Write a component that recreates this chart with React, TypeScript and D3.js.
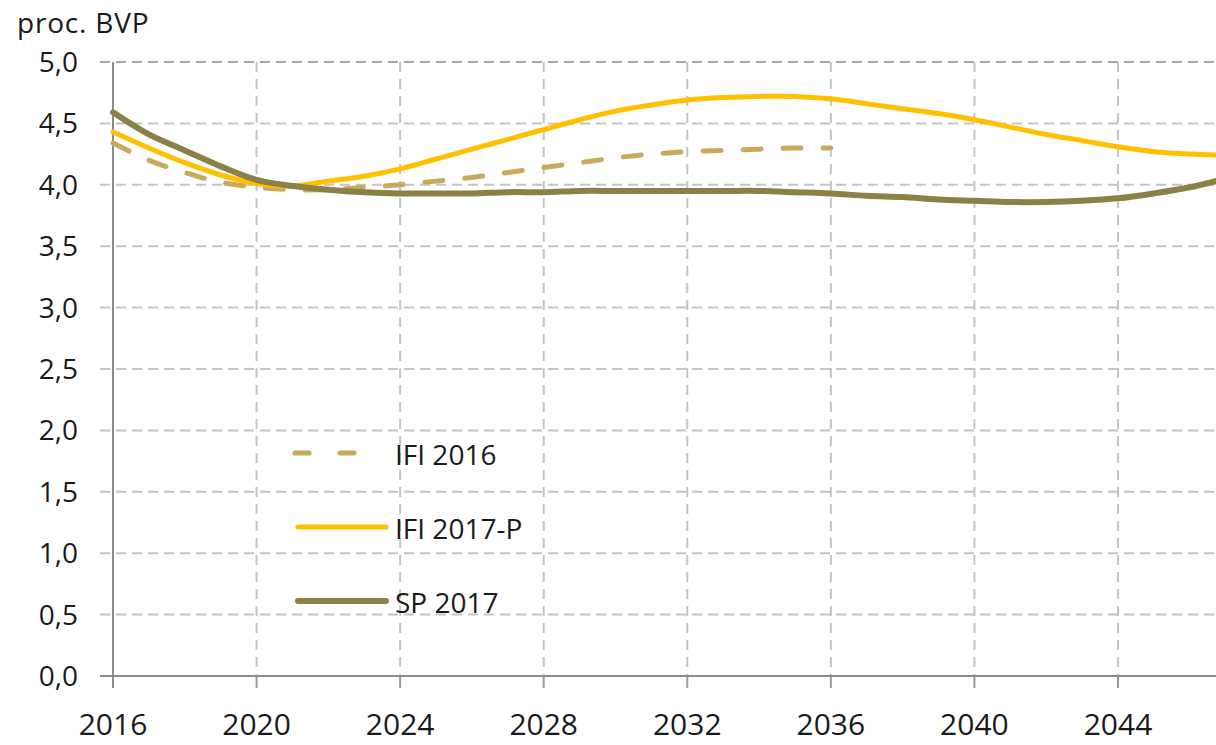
import React from 'react';
import * as d3 from 'd3';

const width = 1216;
const height = 745;
const margin = {top: 62, left: 113, bottom: 69};
const font = '"Open Sans", "DejaVu Sans", sans-serif';

const years = d3.range(2016, 2048);
const ifi2016 = [4.34, 4.2, 4.1, 4.02, 3.98, 3.96, 3.96, 3.98, 4.0, 4.03, 4.06, 4.1, 4.14, 4.18, 4.22, 4.25, 4.27, 4.28, 4.29, 4.3, 4.3];
const ifi2017p = [4.43, 4.3, 4.18, 4.08, 4.01, 3.99, 4.03, 4.07, 4.13, 4.21, 4.29, 4.37, 4.45, 4.53, 4.6, 4.65, 4.69, 4.71, 4.72, 4.72, 4.7, 4.66, 4.62, 4.58, 4.53, 4.47, 4.41, 4.36, 4.31, 4.27, 4.25, 4.24];
const sp2017 = [4.59, 4.41, 4.28, 4.15, 4.04, 3.99, 3.96, 3.94, 3.93, 3.93, 3.93, 3.94, 3.94, 3.95, 3.95, 3.95, 3.95, 3.95, 3.95, 3.94, 3.93, 3.91, 3.9, 3.88, 3.87, 3.86, 3.86, 3.87, 3.89, 3.93, 3.98, 4.05];
const yTicks = [0, 0.5, 1, 1.5, 2, 2.5, 3, 3.5, 4, 4.5, 5];
const xTicks = [2016, 2020, 2024, 2028, 2032, 2036, 2040, 2044];

const series = [
  {name: 'IFI 2016', values: ifi2016, color: '#c9a95c', width: 5, dash: '18,22'},
  {name: 'IFI 2017-P', values: ifi2017p, color: '#ffc000', width: 5, dash: null},
  {name: 'SP 2017', values: sp2017, color: '#8c8046', width: 6, dash: null},
];
const legendY = [453, 527, 601];

const xScale = d3.scaleLinear().domain([2016, 2044]).range([margin.left, 1118]);
const yScale = d3.scaleLinear().domain([0, 5]).range([height - margin.bottom, margin.top]);
const fmt = (v: number) => v.toFixed(1).replace('.', ',');

export default function App() {
  const line = d3.line<number>()
    .x((d, i) => xScale(years[i]))
    .y(d => yScale(d))
    .curve(d3.curveCatmullRom.alpha(0.5));
  const y0 = yScale(0);

  return (
    <svg width={width} height={height} style={{position: 'absolute', left: 0, top: 0, background: '#fff'}}>
      {/* horizontal grid */}
      {yTicks.map(t => (
        <g key={t}>
          {t > 0 && <line x1={100} x2={width} y1={yScale(t)} y2={yScale(t)}
            stroke={t === 5 ? '#a6a6a6' : '#c4c4c4'} strokeWidth={2} strokeDasharray='10,6' />}
          <text x={78} y={yScale(t) + 10} textAnchor='end' fontFamily={font} fontSize={28} fill='#1a1a1a'>{fmt(t)}</text>
        </g>
      ))}
      {/* vertical grid */}
      {xTicks.map(t => (
        <g key={t}>
          {t > 2016 && <line x1={xScale(t)} x2={xScale(t)} y1={margin.top} y2={y0}
            stroke='#c4c4c4' strokeWidth={2} strokeDasharray='10,7' />}
          <line x1={xScale(t)} x2={xScale(t)} y1={y0} y2={y0 + 12} stroke='#9a9a9a' strokeWidth={2} />
          <text x={xScale(t)} y={735} textAnchor='middle' fontFamily={font} fontSize={30} fill='#1a1a1a'>{t}</text>
        </g>
      ))}
      {/* axes */}
      <line x1={margin.left} x2={margin.left} y1={margin.top} y2={y0 + 12} stroke='#8c8c8c' strokeWidth={2} />
      <line x1={100} x2={width} y1={y0} y2={y0} stroke='#8c8c8c' strokeWidth={2} />

      {/* series */}
      {series.map(s => (
        <path key={s.name} d={line(s.values) || ''} fill='none' stroke={s.color}
          strokeWidth={s.width} strokeLinecap='round' strokeDasharray={s.dash || undefined} />
      ))}

      {/* legend */}
      {series.map((s, i) => (
        <g key={s.name}>
          <line x1={s.dash ? 295 : 298} x2={s.dash ? 362 : 386} y1={legendY[i]} y2={legendY[i]}
            stroke={s.color} strokeWidth={s.width} strokeLinecap='round'
            strokeDasharray={s.dash ? '14,31' : undefined} />
          <text x={395} y={legendY[i] + 12} fontFamily={font} fontSize={28} fill='#1a1a1a'>{s.name}</text>
        </g>
      ))}

      <text x={17} y={33} fontFamily={font} fontSize={28} letterSpacing={0.8} fill='#1a1a1a'>proc. BVP</text>
    </svg>
  );
}
